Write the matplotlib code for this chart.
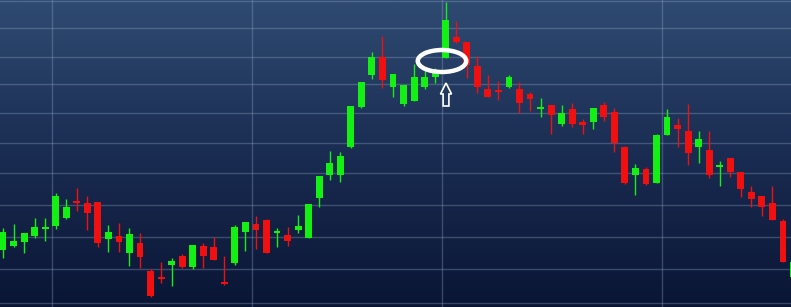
import numpy as np
import matplotlib
matplotlib.use("Agg")
import matplotlib.pyplot as plt
from matplotlib.patches import Ellipse, FancyArrow, Rectangle
from matplotlib.colors import LinearSegmentedColormap

# OHLC (price units, arbitrary scale)
opens  = [57, 61, 65, 71, 78, 81, 89, 106, 104, 105, 68, 71, 54, 64, 36, 30, 42, 51, 40, 61,
          60, 25, 44, 75, 83, 87, 74, 72, 77, 69, 109, 132, 132, 160, 200, 232, 250, 220, 203, 206,
          220, 230, 249, 270, 265, 241, 218, 217, 220, 218, 213, 198, 202, 183, 198, 185, 185, 202, 195, 160,
          132, 138, 124, 172, 182, 176, 160, 157, 140, 149, 135, 115, 111, 104, 86, 30]
closes = [75, 66, 74, 80, 80, 111, 100, 104, 94, 64, 75, 65, 73, 50, 11, 28, 46, 40, 62, 51,
          47, 23, 80, 85, 77, 54, 76, 66, 81, 103, 131, 144, 151, 201, 225, 250, 227, 233, 222, 230,
          230, 234, 287, 265, 242, 220, 210, 215, 230, 204, 208, 200, 192, 194, 183, 182, 199, 190, 164, 124,
          139, 123, 172, 190, 178, 154, 168, 132, 142, 135, 118, 108, 100, 87, 45, 45]
highs  = [79, 83, 74, 89, 89, 114, 108, 119, 111, 105, 82, 84, 79, 74, 38, 45, 49, 53, 62, 64,
          70, 51, 82, 85, 91, 88, 79, 80, 92, 103, 131, 156, 155, 201, 225, 255, 271, 233, 222, 243,
          238, 239, 305, 286, 265, 251, 232, 226, 232, 225, 215, 209, 202, 202, 204, 188, 199, 205, 199, 161,
          143, 140, 173, 198, 189, 203, 176, 176, 146, 149, 135, 121, 111, 121, 88, 52]
lows   = [49, 60, 54, 69, 66, 78, 88, 96, 77, 60, 55, 55, 41, 39, 10, 24, 21, 39, 38, 39,
          47, 22, 42, 56, 58, 54, 60, 61, 74, 69, 100, 127, 125, 159, 199, 228, 219, 210, 201, 206,
          218, 224, 249, 264, 229, 214, 210, 207, 219, 194, 196, 190, 173, 181, 180, 173, 178, 186, 155, 123,
          112, 122, 124, 172, 160, 142, 144, 129, 121, 130, 110, 100, 91, 87, 45, 27]

grid_levels = [306, 279, 250, 223, 194, 164, 134, 102, 70, 38, 4]
grid_bars = [4.65, 23.6, 41.65, 62.5]

up_color = "#14f014"
down_color = "#f01010"

fig = plt.figure(figsize=(7.91, 3.07), dpi=100)
ax = fig.add_axes([0, 0, 1, 1])
ax.set_xlim(-0.285, 74.76)
ax.set_ylim(0, 307)
ax.axis("off")

# background gradient
bg = LinearSegmentedColormap.from_list("bg", ["#0a1534", "#1a2c52", "#2f4b72"])
grad = np.linspace(0, 1, 256).reshape(-1, 1)
ax.imshow(grad, cmap=bg, origin="lower", aspect="auto",
          extent=[-0.285, 74.76, 0, 307], zorder=0)

for g in grid_levels:
    ax.axhline(g, color="#8ea4c4", alpha=0.35, lw=1, zorder=1)
for g in grid_bars:
    ax.axvline(g, color="#8ea4c4", alpha=0.35, lw=1, zorder=1)

w = 0.65
for i, (o, c, h, l) in enumerate(zip(opens, closes, highs, lows)):
    col = up_color if c >= o else down_color
    ax.vlines(i, l, h, color=col, lw=1, zorder=2)
    bottom = min(o, c)
    height = max(abs(c - o), 2)
    ax.add_patch(Rectangle((i - w / 2, bottom), w, height, facecolor=col,
                           edgecolor="none", zorder=3))

# annotation: ellipse around the top and hollow arrow
ax.add_patch(Ellipse((41.65, 246), 4.6, 22, fill=False, edgecolor="white",
                     lw=3.2, zorder=5))
ax.add_patch(FancyArrow(42.03, 201, 0, 23, width=0.55, head_width=1.05,
                        head_length=11, length_includes_head=True,
                        facecolor="#22385e", edgecolor="white", lw=1.2, zorder=5))

fig.savefig("out.png", dpi=100)
